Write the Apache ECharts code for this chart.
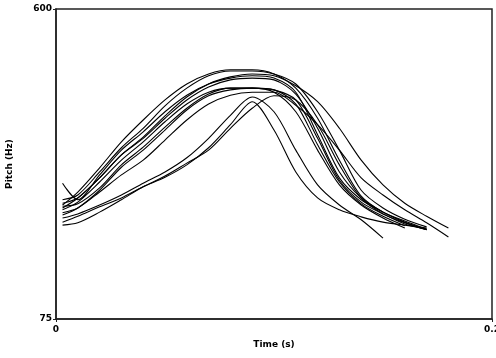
<!DOCTYPE html>
<html>
<head>
<meta charset="utf-8">
<script src="https://cdn.jsdelivr.net/npm/echarts@6/dist/echarts.min.js"></script>
<style>
  html, body { margin: 0; padding: 0; background: #fff; }
  #chart { width: 496px; height: 358px; }
</style>
</head>
<body>
<div id="chart"></div>
<script>
// time grid (s): first sample near the onset, then every 10 ms
const times = [0.003, 0.01, 0.02, 0.03, 0.04, 0.05, 0.06, 0.07, 0.08, 0.09,
               0.10, 0.11, 0.12, 0.13, 0.14, 0.15, 0.16, 0.17, 0.18];

// pitch tracks (Hz), one per utterance
const track1  = [268, 290, 331, 375, 412, 446, 473, 490, 497, 497, 490, 466, 415, 344, 283, 256, 241, 227];
const track2  = [277, 285, 324, 365, 398, 436, 466, 487, 495, 495, 490, 473, 426, 361, 293, 263, 244, 231];
const track3  = [263, 280, 314, 353, 383, 419, 451, 473, 485, 490, 487, 470, 443, 398, 344, 302, 271, 249, 229];
const track4  = [255, 263, 290, 319, 344, 378, 412, 439, 454, 459, 459, 437, 404, 361, 314, 285, 260, 238, 214];
const track5  = [305, 277, 319, 361, 392, 426, 454, 473, 483, 487, 483, 459, 387, 314, 277, 256, 239, 226];
const track6  = [260, 273, 307, 344, 375, 409, 439, 459, 466, 466, 463, 446, 381, 310, 273, 253, 236, 227];
const track7  = [251, 263, 293, 332, 361, 395, 429, 453, 463, 466, 459, 426, 361, 302, 268, 246, 229];
const track8  = [246, 253, 268, 285, 305, 324, 348, 381, 420, 451, 426, 361, 302, 268, 243, 212];
const track9  = [239, 249, 265, 280, 299, 315, 336, 365, 404, 443, 395, 324, 280, 260, 248, 239, 234, 229];
const track10 = [234, 238, 256, 277, 299, 317, 339, 361, 398, 432, 453, 446, 404, 336, 280, 253, 238, 226];
const track11 = [271, 280, 314, 353, 381, 415, 446, 468, 480, 483, 480, 456, 398, 324, 280, 256, 239, 227];
const track12 = [266, 270, 297, 336, 366, 400, 432, 456, 466, 466, 463, 439, 370, 307, 270, 249, 233];

const tracks = [track1, track2, track3, track4, track5, track6,
                track7, track8, track9, track10, track11, track12];

const yTicks = [75, 600];
const xTicks = [0, 0.2];

const chart = echarts.init(document.getElementById('chart'));

const labelStyle = { color: '#000', fontFamily: 'DejaVu Sans', fontWeight: 'bold', fontSize: 9 };

chart.setOption({
    animation: false,
    backgroundColor: '#fff',
    grid: {
        left: 56, right: 4, top: 9, bottom: 39,
        outerBoundsMode: 'none',
        show: true, borderColor: '#222', borderWidth: 1.5,
    },
    xAxis: {
        type: 'value',
        min: 0,
        max: 0.2,
        name: 'Time (s)',
        nameLocation: 'middle',
        nameGap: 21,
        nameTextStyle: labelStyle,
        axisLine: { show: true, lineStyle: { color: '#222', width: 1.5 } },
        axisTick: { show: true, length: 3, customValues: xTicks, lineStyle: { color: '#222' } },
        axisLabel: { ...labelStyle, margin: 6, customValues: xTicks },
        splitLine: { show: false },
    },
    yAxis: {
        type: 'value',
        min: 75,
        max: 600,
        name: 'Pitch (Hz)',
        nameLocation: 'middle',
        nameGap: 42,
        nameTextStyle: labelStyle,
        axisLine: { show: true, lineStyle: { color: '#222', width: 1.5 } },
        axisTick: { show: true, length: 3, customValues: yTicks, lineStyle: { color: '#222' } },
        axisLabel: { ...labelStyle, margin: 4, customValues: yTicks },
        splitLine: { show: false },
    },
    series: tracks.map((vals, i) => ({
        name: 'track' + (i + 1),
        type: 'line',
        data: vals.map((v, j) => [times[j], v]),
        smooth: 0.3,
        showSymbol: false,
        lineStyle: { color: '#000', width: 1.1 },
    })),
});
</script>
</body>
</html>
